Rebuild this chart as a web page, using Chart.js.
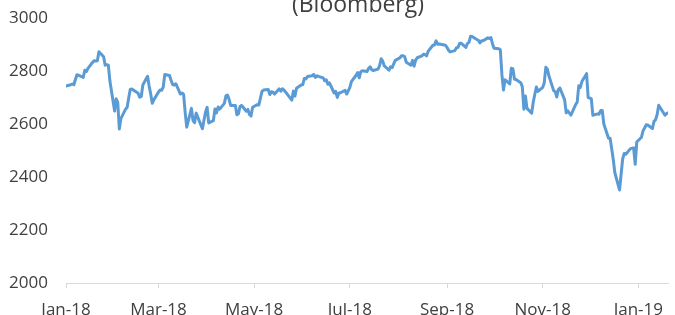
<!DOCTYPE html>
<html>
<head>
<meta charset="utf-8">
<script src="https://cdn.jsdelivr.net/npm/chart.js@4.4.1/dist/chart.umd.min.js"></script>
<style>
  html, body { margin: 0; padding: 0; background: #fff; }
</style>
</head>
<body>
<canvas id="chart" width="675" height="315"></canvas>
<script>
const title = '(Bloomberg)';

// daily closes, 5 Jan 2018 - 24 Jan 2019
const dates = [
  '2018-01-05','2018-01-08','2018-01-09','2018-01-10','2018-01-11','2018-01-12','2018-01-16','2018-01-17','2018-01-18','2018-01-19',
  '2018-01-22','2018-01-23','2018-01-24','2018-01-25','2018-01-26','2018-01-29','2018-01-30','2018-01-31','2018-02-01','2018-02-02',
  '2018-02-05','2018-02-06','2018-02-07','2018-02-08','2018-02-09','2018-02-12','2018-02-13','2018-02-14','2018-02-15','2018-02-16',
  '2018-02-20','2018-02-21','2018-02-22','2018-02-23','2018-02-26','2018-02-27','2018-02-28','2018-03-01','2018-03-02','2018-03-05',
  '2018-03-06','2018-03-07','2018-03-08','2018-03-09','2018-03-12','2018-03-13','2018-03-14','2018-03-15','2018-03-16','2018-03-19',
  '2018-03-20','2018-03-21','2018-03-22','2018-03-23','2018-03-26','2018-03-27','2018-03-28','2018-03-29','2018-04-02','2018-04-03',
  '2018-04-04','2018-04-05','2018-04-06','2018-04-09','2018-04-10','2018-04-11','2018-04-12','2018-04-13','2018-04-16','2018-04-17',
  '2018-04-18','2018-04-19','2018-04-20','2018-04-23','2018-04-24','2018-04-25','2018-04-26','2018-04-27','2018-04-30','2018-05-01',
  '2018-05-02','2018-05-03','2018-05-04','2018-05-07','2018-05-08','2018-05-09','2018-05-10','2018-05-11','2018-05-14','2018-05-15',
  '2018-05-16','2018-05-17','2018-05-18','2018-05-21','2018-05-22','2018-05-23','2018-05-24','2018-05-25','2018-05-29','2018-05-30',
  '2018-05-31','2018-06-01','2018-06-04','2018-06-05','2018-06-06','2018-06-07','2018-06-08','2018-06-11','2018-06-12','2018-06-13',
  '2018-06-14','2018-06-15','2018-06-18','2018-06-19','2018-06-20','2018-06-21','2018-06-22','2018-06-25','2018-06-26','2018-06-27',
  '2018-06-28','2018-06-29','2018-07-02','2018-07-03','2018-07-05','2018-07-06','2018-07-09','2018-07-10','2018-07-11','2018-07-12',
  '2018-07-13','2018-07-16','2018-07-17','2018-07-18','2018-07-19','2018-07-20','2018-07-23','2018-07-24','2018-07-25','2018-07-26',
  '2018-07-27','2018-07-30','2018-07-31','2018-08-01','2018-08-02','2018-08-03','2018-08-06','2018-08-07','2018-08-08','2018-08-09',
  '2018-08-10','2018-08-13','2018-08-14','2018-08-15','2018-08-16','2018-08-17','2018-08-20','2018-08-21','2018-08-22','2018-08-23',
  '2018-08-24','2018-08-27','2018-08-28','2018-08-29','2018-08-30','2018-08-31','2018-09-04','2018-09-05','2018-09-06','2018-09-07',
  '2018-09-10','2018-09-11','2018-09-12','2018-09-13','2018-09-14','2018-09-17','2018-09-18','2018-09-19','2018-09-20','2018-09-21',
  '2018-09-24','2018-09-25','2018-09-26','2018-09-27','2018-09-28','2018-10-01','2018-10-02','2018-10-03','2018-10-04','2018-10-05',
  '2018-10-08','2018-10-09','2018-10-10','2018-10-11','2018-10-12','2018-10-15','2018-10-16','2018-10-17','2018-10-18','2018-10-19',
  '2018-10-22','2018-10-23','2018-10-24','2018-10-25','2018-10-26','2018-10-29','2018-10-30','2018-10-31','2018-11-01','2018-11-02',
  '2018-11-05','2018-11-06','2018-11-07','2018-11-08','2018-11-09','2018-11-12','2018-11-13','2018-11-14','2018-11-15','2018-11-16',
  '2018-11-19','2018-11-20','2018-11-21','2018-11-23','2018-11-26','2018-11-27','2018-11-28','2018-11-29','2018-11-30','2018-12-03',
  '2018-12-04','2018-12-06','2018-12-07','2018-12-10','2018-12-11','2018-12-12','2018-12-13','2018-12-14','2018-12-17','2018-12-18',
  '2018-12-19','2018-12-20','2018-12-21','2018-12-24','2018-12-26','2018-12-27','2018-12-28','2018-12-31','2019-01-02','2019-01-03',
  '2019-01-04','2019-01-07','2019-01-08','2019-01-09','2019-01-10','2019-01-11','2019-01-14','2019-01-15','2019-01-16','2019-01-17',
  '2019-01-18','2019-01-22','2019-01-23','2019-01-24'
];

const closes = [
  2743, 2748, 2751, 2748, 2768, 2786, 2776, 2803, 2798, 2810,
  2833, 2839, 2838, 2839, 2873, 2854, 2822, 2824, 2822, 2762,
  2649, 2695, 2682, 2581, 2620, 2656, 2663, 2699, 2731, 2732,
  2716, 2701, 2704, 2747, 2780, 2744, 2714, 2678, 2691, 2721,
  2728, 2727, 2739, 2787, 2783, 2765, 2749, 2747, 2752, 2713,
  2717, 2712, 2644, 2588, 2659, 2613, 2605, 2641, 2582, 2614,
  2645, 2663, 2604, 2613, 2657, 2642, 2664, 2656, 2678, 2706,
  2709, 2693, 2670, 2670, 2635, 2639, 2667, 2670, 2648, 2655,
  2636, 2630, 2663, 2673, 2672, 2698, 2723, 2728, 2730, 2711,
  2722, 2720, 2713, 2733, 2724, 2733, 2728, 2721, 2690, 2724,
  2705, 2735, 2747, 2749, 2772, 2770, 2779, 2782, 2787, 2776,
  2782, 2780, 2774, 2763, 2767, 2750, 2755, 2717, 2723, 2700,
  2716, 2718, 2727, 2713, 2737, 2760, 2784, 2794, 2774, 2798,
  2801, 2798, 2810, 2816, 2804, 2802, 2807, 2820, 2846, 2837,
  2819, 2803, 2816, 2813, 2827, 2840, 2850, 2858, 2858, 2854,
  2833, 2822, 2840, 2818, 2841, 2850, 2857, 2863, 2862, 2857,
  2875, 2897, 2898, 2914, 2901, 2902, 2897, 2889, 2878, 2872,
  2877, 2888, 2889, 2904, 2905, 2889, 2904, 2908, 2931, 2930,
  2919, 2916, 2906, 2914, 2914, 2925, 2923, 2926, 2902, 2886,
  2884, 2880, 2786, 2728, 2767, 2751, 2810, 2809, 2769, 2768,
  2756, 2741, 2656, 2706, 2659, 2641, 2683, 2712, 2740, 2723,
  2738, 2755, 2814, 2807, 2781, 2726, 2722, 2702, 2730, 2736,
  2691, 2642, 2650, 2633, 2673, 2682, 2744, 2738, 2760, 2790,
  2700, 2696, 2633, 2638, 2637, 2651, 2651, 2600, 2546, 2546,
  2507, 2467, 2417, 2351, 2468, 2489, 2486, 2507, 2510, 2448,
  2532, 2550, 2574, 2585, 2597, 2596, 2583, 2610, 2616, 2636,
  2671, 2633, 2639, 2642
];

// excel puts the 2-month ticks on the 5th (axis starts on first date)
const tickDates = ['2018-01-05', '2018-03-05', '2018-05-05', '2018-07-05', '2018-09-05', '2018-11-05', '2019-01-05'];
const tickLabels = ['Jan-18', 'Mar-18', 'May-18', 'Jul-18', 'Sep-18', 'Nov-18', 'Jan-19'];
const yMin = 2000, yMax = 3000, yStep = 200;

function dayNum(s) {
  let p = s.split('-').map(Number);
  let p0 = dates[0].split('-').map(Number);
  return (Date.UTC(p[0], p[1] - 1, p[2]) - Date.UTC(p0[0], p0[1] - 1, p0[2])) / 86400000;
}

const points = dates.map((d, i) => ({ x: dayNum(d), y: closes[i] }));
const tickVals = tickDates.map(dayNum);

const textColor = '#404040';
const tickFont = { family: 'Open Sans', size: 17 };

const titlePlugin = {
  id: 'topTitle',
  afterDraw(chart) {
    const ctx = chart.ctx;
    ctx.save();
    ctx.font = '23px "Open Sans"';
    ctx.fillStyle = textColor;
    ctx.textAlign = 'center';
    ctx.textBaseline = 'alphabetic';
    ctx.fillText(title, 358, 12);
    ctx.restore();
  }
};

new Chart(document.getElementById('chart').getContext('2d'), {
  type: 'line',
  data: {
    datasets: [{
      label: 'S&P 500',
      data: points,
      borderColor: '#5B9BD5',
      borderWidth: 3,
      borderJoinStyle: 'round',
      borderCapStyle: 'round',
      pointRadius: 0,
      tension: 0,
      fill: false
    }]
  },
  options: {
    responsive: false,
    animation: false,
    layout: { padding: { top: 18, right: 0, left: 0, bottom: 0 } },
    plugins: { legend: { display: false }, tooltip: { enabled: false } },
    scales: {
      x: {
        type: 'linear',
        min: 0,
        max: dayNum(dates[dates.length - 1]),
        afterBuildTicks: (scale) => { scale.ticks = tickVals.map(v => ({ value: v })); },
        afterFit: (scale) => { scale.height = 32; },
        ticks: {
          autoSkip: false,
          maxRotation: 0,
          padding: 12,
          color: textColor,
          font: tickFont,
          callback: (v, i) => tickLabels[i]
        },
        grid: { drawOnChartArea: false, drawTicks: true, tickLength: 5, color: '#d9d9d9' },
        border: { display: true, color: '#d9d9d9', width: 1 }
      },
      y: {
        min: yMin,
        max: yMax,
        afterFit: (scale) => {
          scale.width = 66;
          // tick padding would otherwise push the plot top down
          scale.paddingTop = 0;
          scale.paddingBottom = 0;
        },
        ticks: { stepSize: yStep, padding: 18, color: textColor, font: tickFont, callback: (v) => String(v) },
        grid: { display: false, drawTicks: false },
        border: { display: false }
      }
    }
  },
  plugins: [titlePlugin]
});
</script>
</body>
</html>
